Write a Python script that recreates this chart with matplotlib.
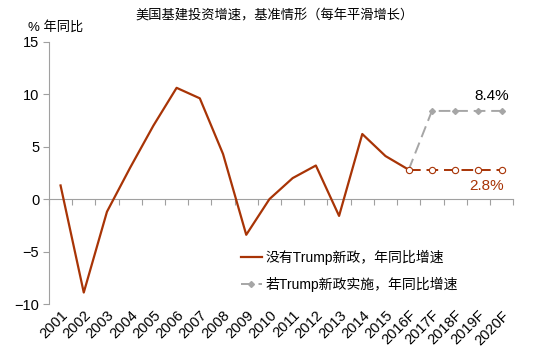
import matplotlib
matplotlib.use("Agg")
import matplotlib.pyplot as plt
import numpy as np

plt.rcParams["font.family"] = ["Liberation Sans", "Noto Sans CJK SC"]

# --- Data ---
years = ["2001", "2002", "2003", "2004", "2005", "2006", "2007", "2008", "2009", "2010",
         "2011", "2012", "2013", "2014", "2015", "2016F", "2017F", "2018F", "2019F", "2020F"]
hist = [1.3, -8.9, -1.2, 3.0, 7.0, 10.6, 9.6, 4.3, -3.4, 0.0,
        2.0, 3.2, -1.6, 6.2, 4.1, 2.8]
base_fc = [2.8, 2.8, 2.8, 2.8, 2.8]       # 2016F-2020F, no Trump policy
trump_fc = [2.8, 8.4, 8.4, 8.4, 8.4]      # 2016F-2020F, Trump policy

red = "#A83406"
gray = "#A6A6A6"
axis_gray = "#A0A0A0"

x = np.arange(len(years))
x_hist = x[:len(hist)]
x_fc = x[len(hist) - 1:]

fig = plt.figure(figsize=(5.5, 3.59), dpi=100)
ax = fig.add_axes([0.089, 0.153, 0.844, 0.731])

ax.plot(x_fc, trump_fc, color=gray, linewidth=1.4, linestyle=(0, (6, 3)),
        marker="D", markersize=3, markerfacecolor=gray, markeredgecolor=gray,
        label="若Trump新政实施，年同比增速", zorder=2)
ax.plot(x_hist, hist, color=red, linewidth=1.6, label="没有Trump新政，年同比增速", zorder=3)
ax.plot(x_fc, base_fc, color=red, linewidth=1.4, linestyle=(0, (6, 3)),
        marker="o", markersize=4.5, markerfacecolor="white", markeredgecolor=red,
        markeredgewidth=0.8, zorder=4)

ax.set_xlim(-0.5, len(years) - 0.5)
ax.set_ylim(-10, 15)
ax.set_yticks([-10, -5, 0, 5, 10, 15])
ax.set_xticks(x)
ax.set_xticklabels(years, rotation=45, ha="right", rotation_mode="anchor", fontsize=10.5)
ax.tick_params(axis="x", length=0, pad=3)
ax.tick_params(axis="y", length=4, color=axis_gray, labelsize=10.5, pad=3)

for s in ["top", "right", "bottom"]:
    ax.spines[s].set_visible(False)
ax.spines["left"].set_color(axis_gray)

# zero line with category separators
zero_axis = ax.secondary_xaxis(10 / 25)
zero_axis.set_xticks(np.arange(-0.5, len(years), 1.0))
zero_axis.set_xticklabels([])
zero_axis.tick_params(length=4, color=axis_gray, direction="out")
zero_axis.spines["bottom"].set_color(axis_gray)

ax.text(x[-1] + 0.3, 8.4 + 0.8, "8.4%", color="black", fontsize=11, ha="right", va="bottom")
ax.text(x[-1] + 0.1, 2.8 - 0.9, "2.8%", color=red, fontsize=11, ha="right", va="top")

handles, labels = ax.get_legend_handles_labels()
ax.legend(handles[::-1], labels[::-1], loc="upper left", bbox_to_anchor=(0.415, 0.34),
          bbox_transform=fig.transFigure, frameon=False, fontsize=10,
          handlelength=1.5, handletextpad=0.3, labelspacing=0.9)

fig.text(0.5, 0.955, "美国基建投资增速，基准情形（每年平滑增长）", ha="center", va="center",
         fontsize=9.5, fontweight="medium")
fig.text(0.05, 0.924, "% 年同比", ha="left", va="center", fontsize=9.5)

fig.savefig("out.png", dpi=100)
plt.close(fig)
